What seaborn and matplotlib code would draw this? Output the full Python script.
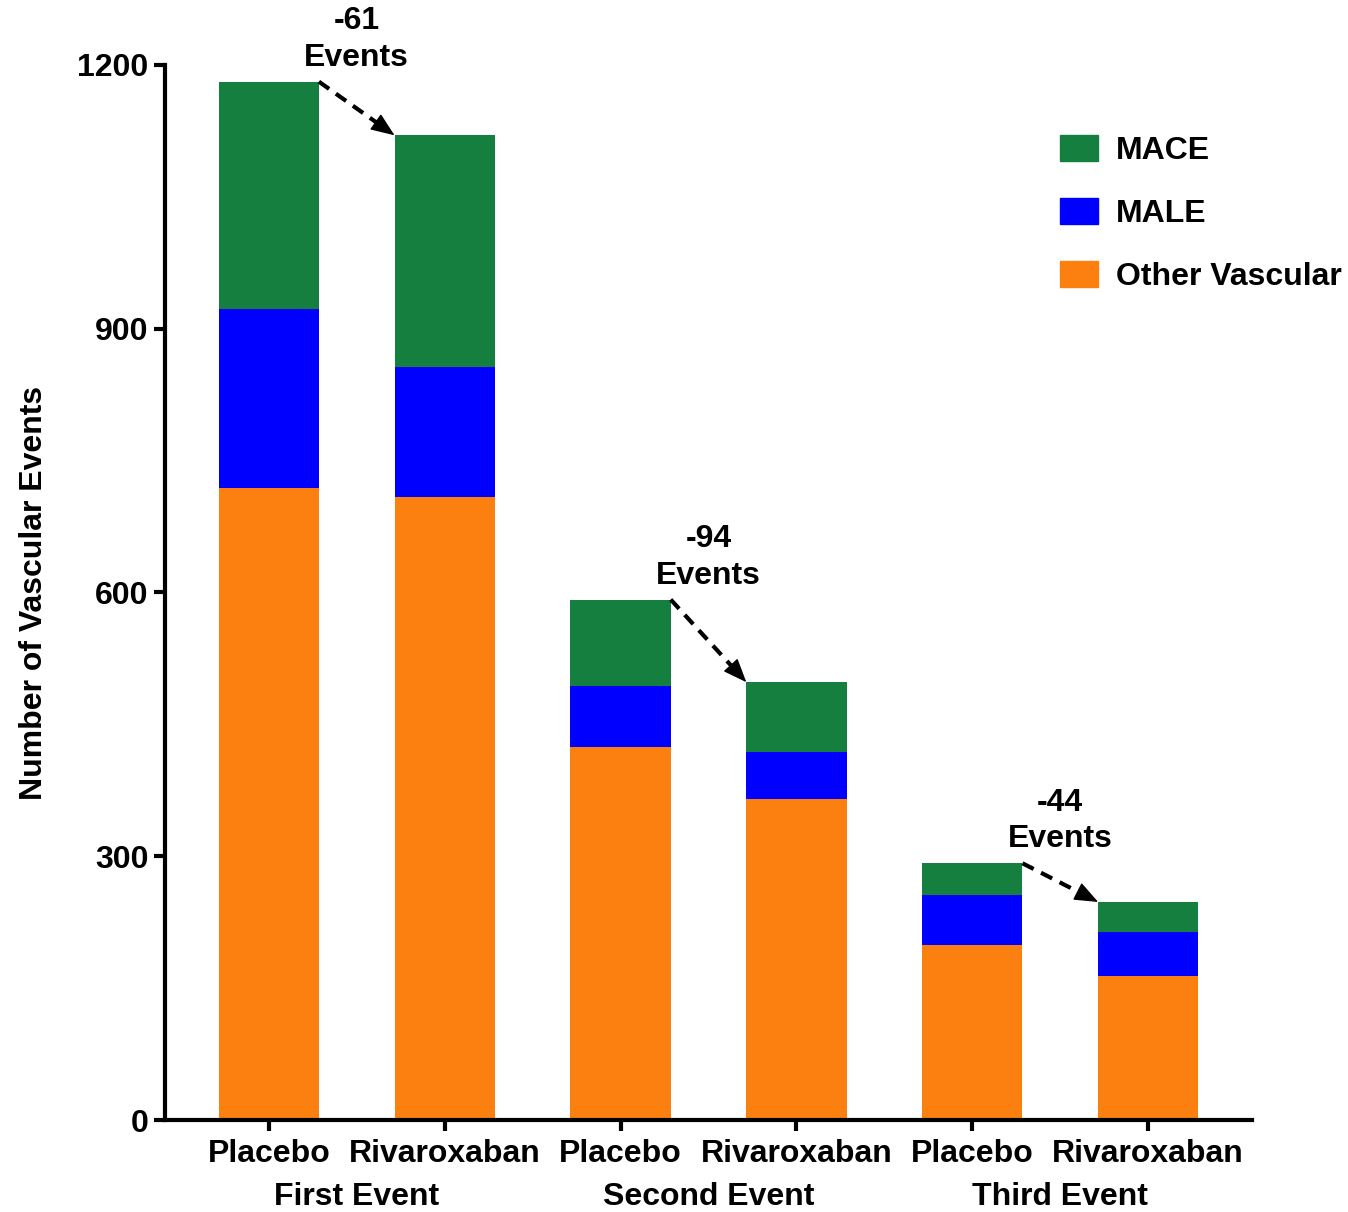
import numpy as np
import pandas as pd
import seaborn as sns
import matplotlib.pyplot as plt
from matplotlib.patches import Patch

# values (number of events per segment)
bar_keys = ['P1', 'R1', 'P2', 'R2', 'P3', 'R3']
arm_labels = ['Placebo', 'Rivaroxaban', 'Placebo', 'Rivaroxaban', 'Placebo', 'Rivaroxaban']
group_labels = ['First Event', 'Second Event', 'Third Event']
other_vascular = [719, 709, 424, 365, 199, 164]
male = [204, 147, 70, 54, 57, 50]
mace = [258, 264, 98, 79, 36, 34]
diff_labels = ['-61\nEvents', '-94\nEvents', '-44\nEvents']

col_mace = '#157F3F'
col_male = '#0000FF'
col_other = '#FB800F'

sns.set_style('white')
plt.rcParams['font.family'] = ['Liberation Sans', 'DejaVu Sans']
plt.rcParams['font.weight'] = 'bold'
for k in ['text.color', 'axes.labelcolor', 'xtick.color', 'ytick.color']:
    plt.rcParams[k] = 'black'

fs = 23

df = pd.DataFrame({'bar': bar_keys, 'other': other_vascular, 'male': male, 'mace': mace})
df['lvl2'] = df['other'] + df['male']
df['total'] = df['lvl2'] + df['mace']

fig = plt.figure(figsize=(13.48, 12.12), dpi=100)
ax = fig.add_axes([0.1224, 0.0759, 0.8064, 0.8705])

w = 0.57
sns.barplot(data=df, x='bar', y='total', order=bar_keys, color=col_mace, width=w,
            saturation=1, edgecolor='none', ax=ax)
sns.barplot(data=df, x='bar', y='lvl2', order=bar_keys, color=col_male, width=w,
            saturation=1, edgecolor='none', ax=ax)
sns.barplot(data=df, x='bar', y='other', order=bar_keys, color=col_other, width=w,
            saturation=1, edgecolor='none', ax=ax)

ax.set_xlim(-0.59, 5.59)
ax.set_ylim(0, 1200)
ax.set_yticks([0, 300, 600, 900, 1200])
ax.set_xticks(range(6))
ax.set_xticklabels(arm_labels, fontsize=fs, fontweight='bold')
ax.tick_params(axis='y', labelsize=fs, width=3, length=8, direction='out', left=True, pad=4)
ax.tick_params(axis='x', width=3, length=8, direction='out', bottom=True, pad=6)
for lab in ax.get_yticklabels():
    lab.set_fontweight('bold')
for s in ['top', 'right']:
    ax.spines[s].set_visible(False)
for s in ['left', 'bottom']:
    ax.spines[s].set_linewidth(3)
    ax.spines[s].set_color('black')
ax.set_xlabel('')
ax.set_ylabel('Number of Vascular Events', fontsize=fs, fontweight='bold', labelpad=20)

# group labels under pairs
for g, name in enumerate(group_labels):
    ax.text(2 * g + 0.5, -0.073, name, transform=ax.get_xaxis_transform(),
            ha='center', va='center', fontsize=fs, fontweight='bold')

# dashed arrows between placebo and rivaroxaban totals
totals = df['total'].tolist()
for g in range(3):
    i = 2 * g
    x0, y0 = i + w / 2, totals[i]
    x1, y1 = i + 1 - w / 2, totals[i + 1]
    # dashed shaft stops short of the tip, solid head on top
    xm, ym = x0 + 0.8 * (x1 - x0), y0 + 0.8 * (y1 - y0)
    ax.plot([x0, xm], [y0, ym], color='black', lw=3, linestyle=(0, (3, 2)),
            solid_capstyle='butt', clip_on=False)
    ax.annotate('', xy=(x1, y1), xytext=(xm, ym),
                arrowprops=dict(arrowstyle='-|>,head_length=1.5,head_width=0.6',
                                lw=1, color='black', shrinkA=0, shrinkB=0),
                annotation_clip=False)
    ax.text(i + 0.5, y0 + 10, diff_labels[g], ha='center', va='bottom',
            fontsize=fs, fontweight='bold', linespacing=1.3, clip_on=False)

handles = [Patch(color=col_mace, label='MACE'),
           Patch(color=col_male, label='MALE'),
           Patch(color=col_other, label='Other Vascular')]
ax.legend(handles=handles, loc='upper left', bbox_to_anchor=(0.786, 0.889),
          bbox_transform=fig.transFigure, frameon=False,
          prop={'size': fs, 'weight': 'bold'}, handlelength=1.2, handleheight=0.88,
          labelspacing=1.0, handletextpad=0.56, borderpad=0, borderaxespad=0)

fig.savefig('out.png', dpi=100)
